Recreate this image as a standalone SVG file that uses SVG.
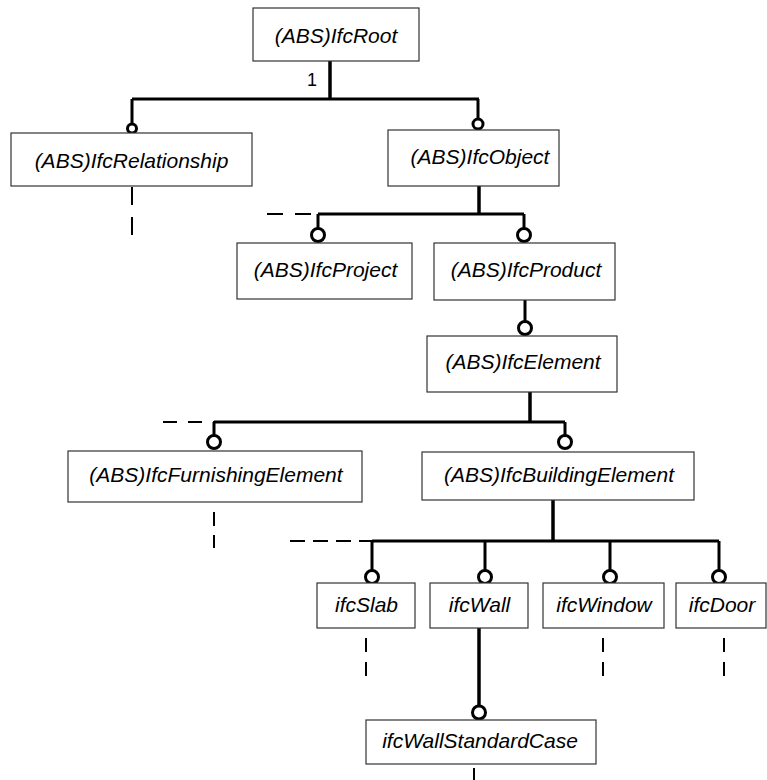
<svg xmlns="http://www.w3.org/2000/svg" width="767" height="780" viewBox="0 0 767 780">
  <style>
    .box { fill: #ffffff; stroke: #333333; stroke-width: 1.2; }
    .lbl { font-family: "Liberation Sans", Arial, sans-serif; font-style: italic; font-size: 21px; fill: #000000; text-anchor: middle; }
    .card { font-family: "Liberation Sans", Arial, sans-serif; font-size: 18px; fill: #000000; }
    .bar { stroke: #000000; stroke-width: 3; fill: none; }
    .stem { stroke: #000000; stroke-width: 3.5; fill: none; }
    .knob { fill: #ffffff; stroke: #000000; stroke-width: 3; }
    .more { stroke: #000000; stroke-width: 2; fill: none; }
  </style>
  <rect width="767" height="780" fill="#ffffff"/>

  <!-- inheritance connectors -->
  <g id="connectors">
    <!-- IfcRoot -->
    <line class="stem" x1="330" y1="61" x2="330" y2="99"/>
    <line class="bar" x1="132" y1="99" x2="479" y2="99"/>
    <line class="bar" x1="132" y1="99" x2="132" y2="124"/>
    <circle class="knob" cx="132" cy="128.5" r="4.5"/>
    <line class="bar" x1="478" y1="99" x2="478" y2="119"/>
    <circle class="knob" cx="478" cy="124" r="5"/>
    <text class="card" x="307" y="86">1</text>

    <!-- IfcObject -->
    <line class="stem" x1="479" y1="186" x2="479" y2="214"/>
    <line class="bar" x1="318" y1="214" x2="524" y2="214"/>
    <line class="more" x1="267" y1="214" x2="318" y2="214" stroke-dasharray="16 12"/>
    <line class="bar" x1="318" y1="214" x2="318" y2="228.5"/>
    <circle class="knob" cx="318" cy="235" r="6.5"/>
    <line class="bar" x1="524" y1="214" x2="524" y2="228.5"/>
    <circle class="knob" cx="524" cy="235" r="6.5"/>

    <!-- IfcProduct -->
    <line class="bar" x1="525" y1="300" x2="525" y2="321.5"/>
    <circle class="knob" cx="525" cy="328" r="6.5"/>

    <!-- IfcElement -->
    <line class="stem" x1="530" y1="392" x2="530" y2="422"/>
    <line class="bar" x1="214" y1="422" x2="565" y2="422"/>
    <line class="more" x1="163" y1="422" x2="214" y2="422" stroke-dasharray="14 11"/>
    <line class="bar" x1="214" y1="422" x2="214" y2="435.5"/>
    <circle class="knob" cx="214" cy="442" r="6.5"/>
    <line class="bar" x1="565" y1="422" x2="565" y2="435.5"/>
    <circle class="knob" cx="565" cy="442" r="6.5"/>

    <!-- IfcBuildingElement -->
    <line class="stem" x1="553" y1="500" x2="553" y2="541"/>
    <line class="bar" x1="372" y1="541" x2="719" y2="541"/>
    <line class="more" x1="290" y1="541" x2="372" y2="541" stroke-dasharray="15 8"/>
    <line class="bar" x1="372" y1="541" x2="372" y2="570.5"/>
    <circle class="knob" cx="372" cy="577" r="6.5"/>
    <line class="bar" x1="485" y1="541" x2="485" y2="570.5"/>
    <circle class="knob" cx="485" cy="577" r="6.5"/>
    <line class="bar" x1="610" y1="541" x2="610" y2="570.5"/>
    <circle class="knob" cx="610" cy="577" r="6.5"/>
    <line class="bar" x1="719" y1="541" x2="719" y2="570.5"/>
    <circle class="knob" cx="719" cy="577" r="6.5"/>

    <!-- ifcWall -->
    <line class="stem" x1="479" y1="628" x2="479" y2="706"/>
    <circle class="knob" cx="479" cy="712.5" r="6.5"/>

    <!-- further subtypes not shown -->
    <line class="more" x1="132" y1="187" x2="132" y2="240" stroke-dasharray="18 12"/>
    <line class="more" x1="214" y1="512" x2="214" y2="548" stroke-dasharray="14 9"/>
    <line class="more" x1="366" y1="638" x2="366" y2="676" stroke-dasharray="14 10"/>
    <line class="more" x1="603" y1="638" x2="603" y2="676" stroke-dasharray="14 10"/>
    <line class="more" x1="724" y1="638" x2="724" y2="676" stroke-dasharray="14 10"/>
    <line class="more" x1="474" y1="768" x2="474" y2="780"/>
  </g>

  <!-- entity boxes -->
  <g id="IfcRoot">
    <rect class="box" x="253" y="8" width="166" height="53"/>
    <text class="lbl" x="336" y="42.5">(ABS)IfcRoot</text>
  </g>
  <g id="IfcRelationship">
    <rect class="box" x="11" y="133" width="241" height="53"/>
    <text class="lbl" x="131.5" y="168">(ABS)IfcRelationship</text>
  </g>
  <g id="IfcObject">
    <rect class="box" x="388" y="130" width="171" height="56"/>
    <text class="lbl" x="480" y="164">(ABS)IfcObject</text>
  </g>
  <g id="IfcProject">
    <rect class="box" x="237" y="243" width="175" height="56"/>
    <text class="lbl" x="325.5" y="277">(ABS)IfcProject</text>
  </g>
  <g id="IfcProduct">
    <rect class="box" x="434" y="243" width="181" height="57"/>
    <text class="lbl" x="526" y="277">(ABS)IfcProduct</text>
  </g>
  <g id="IfcElement">
    <rect class="box" x="427" y="336" width="190" height="56"/>
    <text class="lbl" x="523" y="369">(ABS)IfcElement</text>
  </g>
  <g id="IfcFurnishingElement">
    <rect class="box" x="68" y="451" width="294" height="51"/>
    <text class="lbl" x="216" y="482">(ABS)IfcFurnishingElement</text>
  </g>
  <g id="IfcBuildingElement">
    <rect class="box" x="422" y="452" width="272" height="48"/>
    <text class="lbl" x="559" y="481.5">(ABS)IfcBuildingElement</text>
  </g>
  <g id="ifcSlab">
    <rect class="box" x="317" y="583" width="98" height="45"/>
    <text class="lbl" x="366.5" y="612">ifcSlab</text>
  </g>
  <g id="ifcWall">
    <rect class="box" x="430" y="583" width="98" height="45"/>
    <text class="lbl" x="479.5" y="612">ifcWall</text>
  </g>
  <g id="ifcWindow">
    <rect class="box" x="543" y="583" width="121" height="45"/>
    <text class="lbl" x="604" y="612">ifcWindow</text>
  </g>
  <g id="ifcDoor">
    <rect class="box" x="676" y="583" width="90" height="45"/>
    <text class="lbl" x="722" y="612">ifcDoor</text>
  </g>
  <g id="ifcWallStandardCase">
    <rect class="box" x="366" y="720" width="230" height="44"/>
    <text class="lbl" x="480" y="748">ifcWallStandardCase</text>
  </g>
</svg>
